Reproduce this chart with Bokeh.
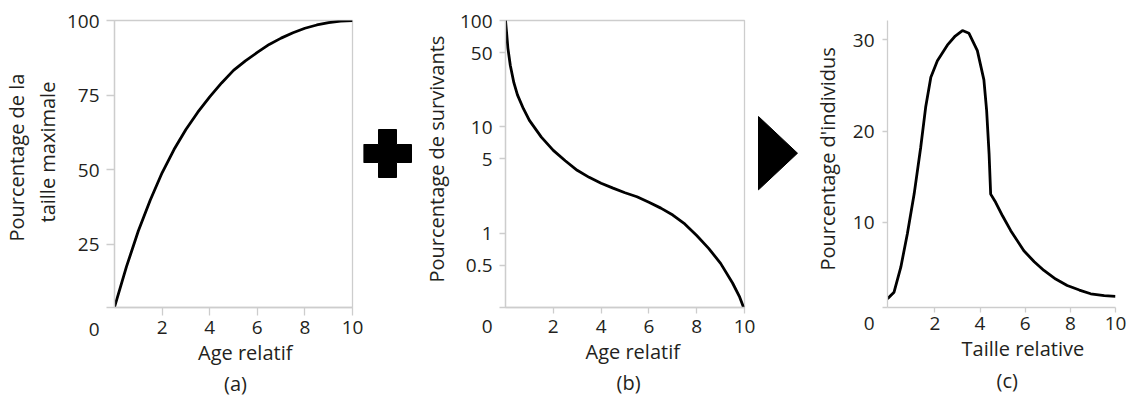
from bokeh.plotting import figure
from bokeh.models import Range1d, FixedTicker, Title, CustomJSTickFormatter
from bokeh.layouts import row
from bokeh.embed import file_html
from bokeh.resources import INLINE

# ---------------- data ----------------
# (a) growth curve
age_a = [0, 0.5, 1, 1.5, 2, 2.5, 3, 3.5, 4, 4.5, 5, 5.5, 6, 6.5, 7, 7.5, 8, 8.5, 9, 9.5, 10]
taille_max_a = [4, 17.5, 29.5, 39.8, 49, 56.8, 63.5, 69.3, 74.4, 79.1, 83.3, 86.5, 89.3,
                92, 94.1, 95.9, 97.4, 98.5, 99.3, 99.8, 100]

# (b) survivorship curve (log scale)
age_b = [0, 0.05, 0.1, 0.2, 0.35, 0.5, 0.75, 1, 1.5, 2, 2.5, 3, 3.5, 4, 4.5, 5, 5.5,
         6, 6.5, 7, 7.5, 8, 8.5, 9, 9.5, 9.8, 10]
survivants_b = [100, 75, 55, 38, 26, 20, 14.8, 11.5, 8, 6, 4.8, 3.9, 3.35, 2.95, 2.65,
                2.4, 2.2, 1.95, 1.72, 1.48, 1.22, 0.95, 0.72, 0.52, 0.34, 0.25, 0.19]

# (c) size distribution
taille_c = [-0.1, 0.19, 0.49, 0.78, 1.08, 1.37, 1.59, 1.82, 2.11, 2.55, 2.9, 3.22, 3.51,
            3.88, 4.17, 4.29, 4.40, 4.47, 4.69, 5.0, 5.36, 5.94, 6.4, 6.83, 7.35, 7.86,
            8.4, 8.9, 9.5, 10.0]
individus_c = [1.64, 2.37, 5.1, 8.76, 13.1, 18.2, 22.6, 25.9, 27.7, 29.4, 30.4, 31.0,
               30.7, 28.8, 25.6, 22.3, 17.5, 13.1, 12.2, 10.7, 9.1, 6.9, 5.7, 4.74, 3.8,
               3.1, 2.6, 2.19, 1.98, 1.9]

x_ticks = [2, 4, 6, 8, 10]
y_ticks_a = [25, 50, 75, 100]
y_ticks_b = [0.5, 1, 5, 10, 50, 100]
y_ticks_c = [10, 20, 30]

# decorative symbols between the panels (canvas pixel space)
plus_x, plus_y = [387], [153]
tri_x = [758, 797, 758]
tri_y = [116, 152.7, 189.3]

# ---------------- styling ----------------
FONT = "Open Sans"
TXT = "#231f20"
GRAY = "#cdcdcd"
TICK_SIZE = "19px"
LAB_SIZE = "20px"
H = 401
TOP, BOTTOM = 20, 94


def base_fig(width, xr, yr, left, right, y_type="linear"):
    p = figure(width=width, height=H, x_range=xr, y_range=yr, y_axis_type=y_type,
               toolbar_location=None, output_backend="svg",
               min_border_left=left, min_border_right=right,
               min_border_top=TOP, min_border_bottom=BOTTOM,
               background_fill_color="white", border_fill_color="white")
    p.grid.visible = False
    return p


def style_axes(p, tick_out, xstand, ystand, y_start, zero_lh):
    for ax in p.axis:
        ax.axis_line_color = GRAY
        ax.axis_line_width = 1.3
        ax.major_tick_line_color = GRAY
        ax.major_tick_line_width = 1.3
        ax.major_tick_out = tick_out
        ax.major_tick_in = 0
        ax.minor_tick_line_color = None
        ax.major_label_text_font = FONT
        ax.major_label_text_font_size = TICK_SIZE
        ax.major_label_text_color = TXT
    p.xaxis.major_label_standoff = xstand
    p.yaxis.major_label_standoff = ystand
    # the corner "0" that sits in the x tick-label row
    p.yaxis.major_label_text_line_height = zero_lh
    p.yaxis.formatter = CustomJSTickFormatter(
        args=dict(start=y_start),
        code="return (Math.abs(tick - start) < 1e-6) ? '\\n\\n0' : tick.toString();")


def side_title(p, text, place, offset=0, standoff=0):
    p.add_layout(Title(text=text, align="left", offset=offset, standoff=standoff,
                       text_font=FONT, text_font_size=LAB_SIZE, text_font_style="normal",
                       text_color=TXT), place)


def deco_fig(width, x0, x1):
    p = figure(width=width, height=H, x_range=Range1d(x0, x1), y_range=Range1d(H - BOTTOM, TOP),
               toolbar_location=None, output_backend="svg",
               min_border_left=0, min_border_right=0,
               min_border_top=TOP, min_border_bottom=BOTTOM,
               x_axis_location=None, y_axis_location=None,
               background_fill_color="white", border_fill_color="white")
    p.grid.visible = False
    p.outline_line_color = None
    return p


# ---------------- panel (a) ----------------
ya0 = 3.9
pa = base_fig(363, Range1d(0, 10), Range1d(ya0, 100), 110, 11)
pa.outline_line_color = GRAY
pa.outline_line_width = 1.3
pa.line(age_a, taille_max_a, line_color="black", line_width=2.8)
pa.xaxis.ticker = FixedTicker(ticks=x_ticks)
pa.yaxis.ticker = FixedTicker(ticks=[ya0] + y_ticks_a)
style_axes(pa, 8, 5, 7, ya0, 0.81)
side_title(pa, "taille maximale", "left", offset=85, standoff=5)
side_title(pa, "Pourcentage de la", "left", offset=66, standoff=0)
side_title(pa, "Age relatif", "below", offset=83.5)
side_title(pa, "(a)", "below", offset=109.5, standoff=4)

# ---------------- plus sign ----------------
pplus = deco_fig(50, 363, 413)
pplus.scatter(plus_x, plus_y, marker="plus", size=48, fill_color="black", line_color="black")

# ---------------- panel (b) ----------------
yb0 = 0.2
pb = base_fig(344, Range1d(0, 10), Range1d(yb0, 100), 87, 13, y_type="log")
pb.outline_line_color = GRAY
pb.outline_line_width = 1.3
pb.line(age_b, survivants_b, line_color="black", line_width=2.8)
pb.xaxis.ticker = FixedTicker(ticks=x_ticks)
pb.yaxis.ticker = FixedTicker(ticks=[yb0] + y_ticks_b)
style_axes(pb, 6, 6, 7, yb0, 0.73)
side_title(pb, "Pourcentage de survivants", "left", offset=25, standoff=14)
side_title(pb, "Age relatif", "below", offset=80)
side_title(pb, "(b)", "below", offset=111, standoff=4)

# ---------------- arrow triangle ----------------
ptri = deco_fig(43, 757, 800)
ptri.patch(tri_x, tri_y, fill_color="black", line_color="black")

# ---------------- panel (c) ----------------
yc0 = 0.69
pc = base_fig(334, Range1d(-0.1, 10), Range1d(yc0, 32.1), 87, 19)
pc.outline_line_color = None
pc.line(taille_c, individus_c, line_color="black", line_width=2.8)
pc.xaxis.ticker = FixedTicker(ticks=x_ticks)
pc.yaxis.ticker = FixedTicker(ticks=[yc0] + y_ticks_c)
style_axes(pc, 5, 4, 8, yc0, 0.58)
side_title(pc, "Pourcentage d'individus", "left", offset=37, standoff=17)
side_title(pc, "Taille relative", "below", offset=74)
side_title(pc, "(c)", "below", offset=109, standoff=6)

layout = row(pa, pplus, pb, ptri, pc)
open("out.html", "w").write(file_html(layout, INLINE))
